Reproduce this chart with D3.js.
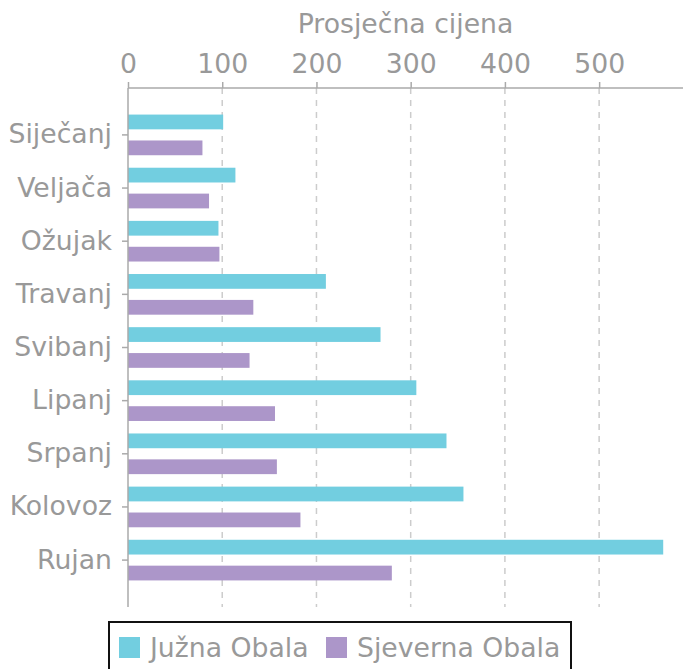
<!DOCTYPE html>
<html><head><meta charset="utf-8">
<script src="https://cdn.jsdelivr.net/npm/d3@7"></script>
<style>body{margin:0;background:#fff}svg{display:block;font-family:"DejaVu Sans",sans-serif}</style>
</head><body><svg id="c" width="683" height="669"></svg>
<script>
const months = ["Siječanj","Veljača","Ožujak","Travanj","Svibanj","Lipanj","Srpanj","Kolovoz","Rujan"];
const seriesNames = ["Južna Obala","Sjeverna Obala"];
const juzna = [101, 114, 96, 210, 268, 306, 338, 356, 568];
const sjeverna = [79, 86, 97, 133, 129, 156, 158, 183, 280];
const xTicks = [0,100,200,300,400,500];
const colors = ["#72cee0","#ac96c9"];
const textCol = "#999999";

(function(){
const FS = 26.7;
const svg = d3.select("#c");
const mL = 128, mR = 683, mT = 88, mB = 607;
const x = d3.scaleLinear().domain([0, 589]).range([mL, mR]);
const y0 = d3.scaleBand().domain(months).range([mT, mB]).paddingInner(0.235).paddingOuter(0.5);
const y1 = d3.scaleBand().domain(seriesNames).range([0, y0.bandwidth()]).paddingInner(0.43).paddingOuter(0);

const data = months.map((m,i)=>({m, vals:[juzna[i], sjeverna[i]]}));

svg.append("g").selectAll("line").data(xTicks.filter(d=>d>0)).join("line")
  .attr("x1",d=>x(d)).attr("x2",d=>x(d)).attr("y1",mT).attr("y2",mB)
  .attr("stroke","#cccccc").attr("stroke-width",1.5).attr("stroke-dasharray","6,6");

const g = svg.append("g");
data.forEach(d=>{
  g.selectAll(null).data(d.vals).join("rect")
   .attr("x",x(0)).attr("y",(v,j)=>y0(d.m)+y1(seriesNames[j]))
   .attr("width",v=>x(v)-x(0)).attr("height",y1.bandwidth())
   .attr("fill",(v,j)=>colors[j]);
});

const xa = svg.append("g").attr("transform",`translate(0,${mT})`)
  .call(d3.axisTop(x).tickValues(xTicks).tickSize(6).tickPadding(9));
xa.select(".domain").attr("stroke","#aaaaaa").attr("stroke-width",1.5).attr("d",`M${mL},0H${mR}`);
xa.selectAll(".tick line").attr("stroke","#aaaaaa").attr("stroke-width",1.5);
xa.selectAll(".tick text").attr("fill",textCol).attr("font-size",FS).attr("font-family","DejaVu Sans");

svg.append("text").attr("x",(mL+mR)/2).attr("y",33).attr("text-anchor","middle")
  .attr("fill",textCol).attr("font-size",FS).text("Prosječna cijena");

const ya = svg.append("g").attr("transform",`translate(${mL},0)`)
  .call(d3.axisLeft(y0).tickSize(6).tickPadding(10));
ya.select(".domain").attr("stroke","#aaaaaa").attr("stroke-width",1.5).attr("d",`M0,${mT}V${mB}`);
ya.selectAll(".tick line").attr("stroke","#aaaaaa").attr("stroke-width",1.5);
ya.selectAll(".tick text").attr("fill",textCol).attr("font-size",FS).attr("font-family","DejaVu Sans");

const lg = svg.append("g");
lg.append("rect").attr("x",109).attr("y",622).attr("width",462).attr("height",60)
  .attr("fill","#fff").attr("stroke","#111").attr("stroke-width",2);
const items = [{n:seriesNames[0],c:colors[0],x:119},{n:seriesNames[1],c:colors[1],x:326}];
items.forEach(it=>{
  lg.append("rect").attr("x",it.x).attr("y",637).attr("width",21).attr("height",21).attr("fill",it.c);
  lg.append("text").attr("x",it.x+31).attr("y",657).attr("fill",textCol).attr("font-size",FS).text(it.n);
});
})();
</script></body></html>
